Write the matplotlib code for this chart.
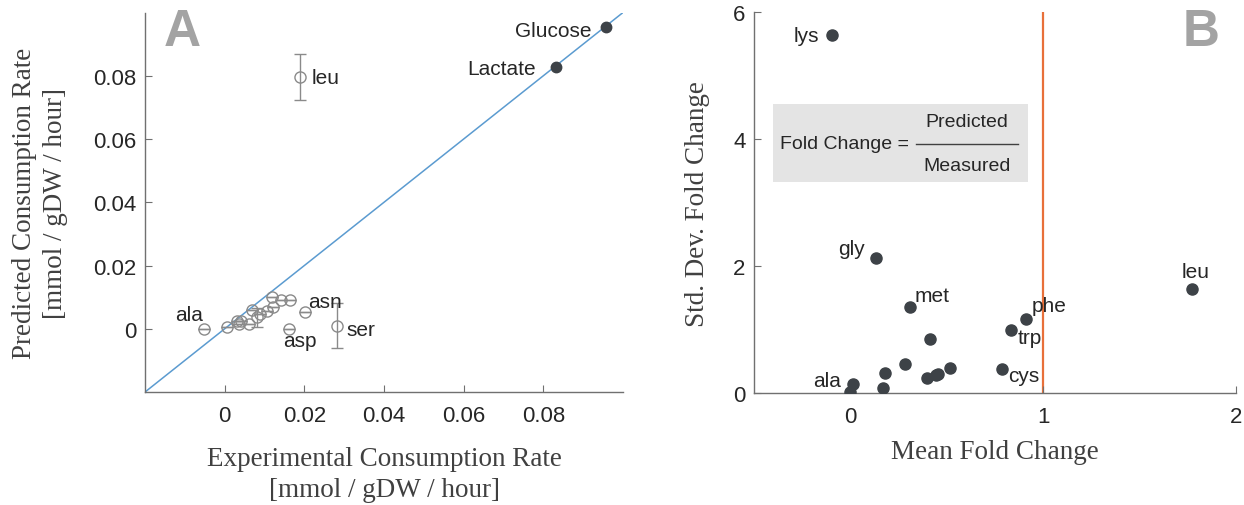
import matplotlib.pyplot as plt

# Panel A: experimental vs predicted consumption (amino acids, open circles)
aa_exp = [-0.0052, 0.0007, 0.0031, 0.0037, 0.0042, 0.0060, 0.0069, 0.0081, 0.0088,
          0.0107, 0.0119, 0.0121, 0.0142, 0.0164, 0.0202, 0.0161, 0.0283, 0.0190]
aa_pred = [0.0000, 0.0005, 0.0026, 0.0014, 0.0026, 0.0016, 0.0058, 0.0037, 0.0047,
           0.0056, 0.0101, 0.0068, 0.0092, 0.0090, 0.0054, 0.0000, 0.0010, 0.0796]
aa_err = [0, 0, 0, 0, 0, 0, 0, 0.0030, 0, 0, 0, 0, 0, 0, 0, 0, 0.0070, 0.0074]
aa_names = ['ala', '', '', '', '', '', '', '', '', '', '', '', '', '', 'asn', 'asp', 'ser', 'leu']
aa_offsets = {'ala': (-1, 14, 'right'), 'asn': (3, 10, 'left'), 'asp': (-6, -12, 'left'),
              'ser': (9, -4, 'left'), 'leu': (11, 0, 'left')}

# sugars (filled circles)
sug_names = ['Glucose', 'Lactate']
sug_exp = [0.0958, 0.0831]
sug_pred = [0.0953, 0.0827]
sug_offsets = {'Glucose': (-15, -3), 'Lactate': (-20, -1)}

# Panel B: fold change statistics
fc_names = ['lys', 'gly', 'leu', 'met', 'phe', 'trp', '', '', '', '', '', '', '', '',
            'cys', 'ala', '']
fc_mean = [-0.094, 0.133, 1.772, 0.310, 0.910, 0.832, 0.411, 0.284, 0.182, 0.168,
           0.518, 0.456, 0.445, 0.397, 0.787, 0.014, 0.000]
fc_std = [5.64, 2.13, 1.64, 1.354, 1.17, 1.00, 0.855, 0.456, 0.32, 0.088,
          0.40, 0.31, 0.29, 0.24, 0.38, 0.15, 0.015]
fc_offsets = {'lys': (-13, 0, 'right'), 'gly': (-11, 10, 'right'), 'leu': (4, 18, 'center'),
              'met': (4, 12, 'left'), 'phe': (6, 13, 'left'), 'trp': (7, -8, 'left'),
              'cys': (6, -6, 'left'), 'ala': (-12, 3, 'right')}

axis_col = '#707070'
text_col = '#262626'
label_col = '#404040'
mark_col = '#3d4247'
serif = ['Liberation Serif', 'DejaVu Serif']
sans = ['Liberation Sans', 'DejaVu Sans']

plt.rcParams['font.family'] = sans

fig = plt.figure(figsize=(12.44, 5.06), dpi=100)


def style_axes(ax):
    for s in ['top', 'right']:
        ax.spines[s].set_visible(False)
    for s in ['left', 'bottom']:
        ax.spines[s].set_color(axis_col)
        ax.spines[s].set_linewidth(1.0)
    ax.tick_params(direction='in', length=5, color=axis_col, labelsize=16,
                   labelcolor=text_col)
    ax.tick_params(axis='x', pad=9)
    ax.tick_params(axis='y', pad=6)


# ---- A ----
axA = fig.add_axes([0.1166, 0.2233, 0.3842, 0.75])
style_axes(axA)
axA.plot([-0.02, 0.1], [-0.02, 0.1], color='#5b9bd0', lw=1.1, zorder=1)
axA.errorbar(aa_exp, aa_pred, yerr=aa_err, fmt='o', mfc='none', mec='#8a8a8a',
             ecolor='#8a8a8a', ms=8, mew=1.0, capsize=4, elinewidth=1.0, zorder=3)
axA.plot(sug_exp, sug_pred, 'o', color=mark_col, ms=7.5, zorder=4)
for n, x, y in zip(aa_names, aa_exp, aa_pred):
    if n:
        dx, dy, ha = aa_offsets[n]
        axA.annotate(n, (x, y), xytext=(dx, dy), textcoords='offset pixels',
                     ha=ha, va='center', fontsize=15, color=text_col)
for n, x, y in zip(sug_names, sug_exp, sug_pred):
    dx, dy = sug_offsets[n]
    axA.annotate(n, (x, y), xytext=(dx, dy), textcoords='offset pixels',
                 ha='right', va='center', fontsize=15, color=text_col)
axA.set_xlim(-0.02, 0.1)
axA.set_ylim(-0.02, 0.1)
axA.set_xticks([0, 0.02, 0.04, 0.06, 0.08])
axA.set_xticklabels(['0', '0.02', '0.04', '0.06', '0.08'])
axA.set_yticks([0, 0.02, 0.04, 0.06, 0.08])
axA.set_yticklabels(['0', '0.02', '0.04', '0.06', '0.08'])
axA.set_xlabel('Experimental Consumption Rate\n[mmol / gDW / hour]', family=serif,
               fontsize=19.5, color=label_col, labelpad=15, linespacing=1.3)
axA.set_ylabel('Predicted Consumption Rate\n[mmol / gDW / hour]', family=serif,
               fontsize=19.5, color=label_col, labelpad=18, linespacing=1.35)
axA.text(0.04, 1.015, 'A', transform=axA.transAxes, fontsize=37, fontweight='bold',
         color='#a3a3a3', va='top', ha='left')

# ---- B ----
axB = fig.add_axes([0.6061, 0.2208, 0.3875, 0.753])
style_axes(axB)
axB.axvline(1, color='#e8703a', lw=1.6, zorder=1)
axB.plot(fc_mean, fc_std, 'o', color=mark_col, ms=8, zorder=3)
for n, x, y in zip(fc_names, fc_mean, fc_std):
    if n:
        dx, dy, ha = fc_offsets[n]
        axB.annotate(n, (x, y), xytext=(dx, dy), textcoords='offset pixels',
                     ha=ha, va='center', fontsize=15, color=text_col)
axB.set_xlim(-0.5, 2)
axB.set_ylim(0, 6)
axB.set_xticks([0, 1, 2])
axB.set_yticks([0, 2, 4, 6])
axB.set_xlabel('Mean Fold Change', family=serif, fontsize=19.5, color=label_col, labelpad=9)
axB.set_ylabel('Std. Dev. Fold Change', family=serif, fontsize=19.5, color=label_col,
               labelpad=17)
axB.text(0.965, 1.015, 'B', transform=axB.transAxes, fontsize=37, fontweight='bold',
         color='#a3a3a3', va='top', ha='right')

# fold change definition box
axB.add_patch(plt.Rectangle((0.04, 0.555), 0.528, 0.203, transform=axB.transAxes,
                            facecolor='#e4e4e4', edgecolor='none', zorder=0))
axB.text(0.053, 0.655, 'Fold Change =', transform=axB.transAxes, fontsize=14,
         color=text_col, va='center', ha='left')
axB.text(0.442, 0.713, 'Predicted', transform=axB.transAxes, fontsize=14,
         color=text_col, va='center', ha='center')
axB.text(0.442, 0.597, 'Measured', transform=axB.transAxes, fontsize=14,
         color=text_col, va='center', ha='center')
axB.plot([0.336, 0.548], [0.653, 0.653], transform=axB.transAxes, color='#404040', lw=1.0)

fig.savefig('out.png', dpi=100)
